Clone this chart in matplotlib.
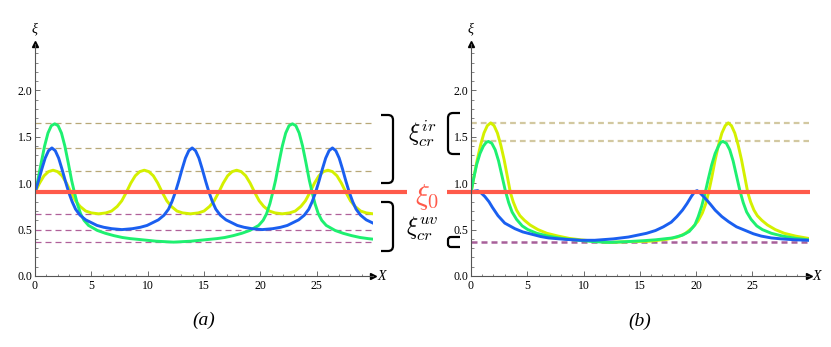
import matplotlib
matplotlib.use("Agg")
import matplotlib.pyplot as plt
from matplotlib.path import Path
from matplotlib.patches import PathPatch

plt.rcParams['mathtext.fontset'] = 'cm'
plt.rcParams['font.family'] = ['Liberation Serif', 'DejaVu Serif']

W, H = 831, 347

# ---- panel (a) ----
a_yel_x = [0, 0.4, 0.8, 1.2, 1.6, 2.0, 2.4, 2.8, 3.2, 3.6, 4.0, 4.5, 5.0, 5.65, 6.3, 6.8, 7.3, 7.7,
           8.1, 8.5, 8.9, 9.3, 9.7, 10.1, 10.5, 10.9, 11.3, 11.7, 12.1, 12.6, 13.1, 13.8, 14.5, 15.0,
           15.5, 15.9, 16.3, 16.7, 17.1, 17.5, 17.9, 18.3, 18.7, 19.1, 19.5, 19.9, 20.3, 20.8, 21.3,
           21.95, 22.6, 23.1, 23.6, 24.0, 24.4, 24.8, 25.2, 25.6, 26.0, 26.4, 26.8, 27.2, 27.6, 28.0,
           28.4, 28.9, 29.4, 30.0]
a_yel_y = [0.90, 1.00, 1.08, 1.125, 1.14, 1.125, 1.08, 1.00, 0.90, 0.81, 0.75, 0.70, 0.68, 0.67, 0.68,
           0.70, 0.75, 0.81, 0.90, 1.00, 1.08, 1.125, 1.14, 1.125, 1.08, 1.00, 0.90, 0.81, 0.75, 0.70,
           0.68, 0.67, 0.68, 0.70, 0.75, 0.81, 0.90, 1.00, 1.08, 1.125, 1.14, 1.125, 1.08, 1.00, 0.90,
           0.81, 0.75, 0.70, 0.68, 0.67, 0.68, 0.70, 0.75, 0.81, 0.90, 1.00, 1.08, 1.125, 1.14, 1.125,
           1.08, 1.00, 0.90, 0.81, 0.75, 0.70, 0.68, 0.67]

a_blu_x = [0, 0.3, 0.6, 0.9, 1.2, 1.5, 1.8, 2.1, 2.4, 2.7, 3.0, 3.3, 3.6, 4.0, 4.5, 5.0, 5.5, 6.1, 6.8,
           7.72, 8.65, 9.35, 9.95, 10.45, 10.95, 11.45, 11.85, 12.15, 12.45, 12.75, 13.05, 13.35, 13.65,
           13.95, 14.25, 14.55, 14.85, 15.15, 15.45, 15.75, 16.05, 16.45, 16.95, 17.45, 17.95, 18.55,
           19.25, 20.17, 21.1, 21.8, 22.4, 22.9, 23.4, 23.9, 24.3, 24.6, 24.9, 25.2, 25.5, 25.8, 26.1,
           26.4, 26.7, 27.0, 27.3, 27.6, 27.9, 28.2, 28.5, 28.9, 29.4, 30.0]
a_blu_y = [0.90, 1.02, 1.15, 1.27, 1.35, 1.38, 1.35, 1.27, 1.15, 1.02, 0.90, 0.80, 0.72, 0.655, 0.605,
           0.575, 0.545, 0.525, 0.51, 0.50, 0.51, 0.525, 0.545, 0.575, 0.605, 0.655, 0.72, 0.80, 0.90,
           1.02, 1.15, 1.27, 1.35, 1.38, 1.35, 1.27, 1.15, 1.02, 0.90, 0.80, 0.72, 0.655, 0.605, 0.575,
           0.545, 0.525, 0.51, 0.50, 0.51, 0.525, 0.545, 0.575, 0.605, 0.655, 0.72, 0.80, 0.90, 1.02,
           1.15, 1.27, 1.35, 1.38, 1.35, 1.27, 1.15, 1.02, 0.90, 0.80, 0.72, 0.655, 0.605, 0.57]

a_grn_x = [0, 0.25, 0.55, 0.85, 1.15, 1.45, 1.75, 2.05, 2.35, 2.65, 2.95, 3.25, 3.5, 3.75, 4.05, 4.35,
           4.75, 5.55, 6.25, 7.0, 7.75, 8.45, 9.95, 10.75, 12.3, 13.85, 14.65, 16.15, 16.85, 17.6,
           18.35, 19.05, 19.85, 20.25, 20.55, 20.85, 21.1, 21.35, 21.65, 21.95, 22.25, 22.55, 22.85,
           23.15, 23.45, 23.75, 24.05, 24.35, 24.6, 24.85, 25.15, 25.45, 25.85, 26.65, 27.35, 28.1,
           28.85, 29.55, 30.0]
a_grn_y = [0.90, 1.03, 1.22, 1.40, 1.54, 1.62, 1.64, 1.62, 1.54, 1.40, 1.22, 1.03, 0.90, 0.78, 0.67,
           0.60, 0.545, 0.49, 0.46, 0.435, 0.415, 0.403, 0.385, 0.375, 0.365, 0.375, 0.385, 0.403,
           0.415, 0.435, 0.46, 0.49, 0.545, 0.60, 0.67, 0.78, 0.90, 1.03, 1.22, 1.40, 1.54, 1.62, 1.64,
           1.62, 1.54, 1.40, 1.22, 1.03, 0.90, 0.78, 0.67, 0.60, 0.545, 0.49, 0.46, 0.435, 0.415,
           0.403, 0.397]

a_ir_levels = [1.645, 1.383, 1.135]
a_uv_levels = [0.672, 0.50, 0.363]

# ---- panel (b) ----
b_yel_x = [0, 0.25, 0.55, 0.85, 1.15, 1.45, 1.75, 2.05, 2.35, 2.65, 2.95, 3.25, 3.5, 3.75, 4.05, 4.35,
           4.75, 5.25, 5.95, 6.75, 7.75, 8.75, 9.75, 10.75, 12.3, 14.0, 15.87, 17.37, 18.37, 19.07,
           19.67, 20.17, 20.57, 20.87, 21.12, 21.4, 21.7, 22.0, 22.3, 22.6, 22.87, 23.15, 23.45,
           23.75, 24.05, 24.35, 24.6, 24.85, 25.15, 25.45, 25.85, 26.35, 27.05, 27.85, 28.85, 30.0]
b_yel_y = [0.90, 1.06, 1.25, 1.41, 1.54, 1.62, 1.65, 1.62, 1.54, 1.41, 1.25, 1.06, 0.90, 0.80, 0.71,
           0.65, 0.60, 0.55, 0.50, 0.46, 0.43, 0.405, 0.39, 0.378, 0.362, 0.37, 0.375, 0.395, 0.42,
           0.46, 0.52, 0.59, 0.68, 0.78, 0.90, 1.06, 1.25, 1.41, 1.54, 1.62, 1.65, 1.62, 1.54, 1.41,
           1.25, 1.06, 0.90, 0.80, 0.71, 0.65, 0.60, 0.55, 0.50, 0.46, 0.43, 0.405]

b_grn_x = [0, 0.25, 0.5, 0.8, 1.1, 1.35, 1.55, 1.85, 2.15, 2.45, 2.75, 3.05, 3.35, 3.65, 4.05, 4.55,
           5.05, 5.85, 6.85, 8.05, 9.55, 11.0, 12.3, 13.8, 15.3, 16.4, 17.9, 18.8, 19.4, 19.9, 20.2,
           20.5, 20.8, 21.1, 21.4, 21.7, 22.0, 22.2, 22.4, 22.7, 23.0, 23.3, 23.6, 23.9, 24.2, 24.5,
           24.9, 25.4, 25.9, 26.7, 27.7, 28.9, 30.0]
b_grn_y = [0.90, 1.06, 1.20, 1.32, 1.40, 1.44, 1.45, 1.43, 1.36, 1.24, 1.08, 0.92, 0.79, 0.69, 0.61,
           0.54, 0.50, 0.46, 0.43, 0.405, 0.385, 0.37, 0.362, 0.37, 0.38, 0.39, 0.41, 0.44, 0.48,
           0.55, 0.64, 0.75, 0.89, 1.05, 1.20, 1.32, 1.40, 1.44, 1.45, 1.43, 1.36, 1.24, 1.08, 0.92,
           0.79, 0.69, 0.61, 0.54, 0.50, 0.46, 0.43, 0.405, 0.39]

b_blu_x = [0, 0.3, 0.6, 0.9, 1.24, 1.6, 1.9, 2.4, 3.0, 3.9, 4.6, 5.4, 6.2, 6.9, 8.35, 9.8, 11.0, 12.65,
           14.0, 15.0, 15.6, 16.4, 17.1, 17.8, 18.3, 18.8, 19.2, 19.6, 19.9, 20.1, 20.4, 20.8, 21.3,
           21.7, 22.3, 22.9, 23.6, 24.4, 25.1, 25.8, 26.7, 27.6, 28.8, 30.0]
b_blu_y = [0.90, 0.915, 0.92, 0.895, 0.855, 0.80, 0.74, 0.65, 0.57, 0.51, 0.475, 0.45, 0.425, 0.41,
           0.395, 0.385, 0.385, 0.40, 0.42, 0.445, 0.46, 0.49, 0.53, 0.58, 0.64, 0.71, 0.78, 0.86,
           0.91, 0.92, 0.89, 0.84, 0.77, 0.71, 0.64, 0.585, 0.53, 0.49, 0.455, 0.43, 0.41, 0.40,
           0.39, 0.385]

b_ir_levels = [1.652, 1.455]
b_uv_levels = [0.37]

xi0 = 0.9
x_ticks = [0, 5, 10, 15, 20, 25]
y_ticks = [0.0, 0.5, 1.0, 1.5, 2.0]

c_yel = '#d4f000'
c_grn = '#1ef070'
c_blu = '#1a5ff0'
c_red = '#ff5a4a'


def px(x, y):
    return x / W, 1 - y / H


def setup(ax, xi_xy, x_xy):
    ax.set_xlim(0, 30)
    ax.set_ylim(0, 2.5)
    for s in ['top', 'right']:
        ax.spines[s].set_visible(False)
    for s in ['left', 'bottom']:
        ax.spines[s].set_color('#555555')
        ax.spines[s].set_linewidth(0.8)
    ax.set_xticks(x_ticks)
    ax.set_xticks(range(0, 30), minor=True)
    ax.set_yticks(y_ticks)
    ax.set_yticks([i / 10 for i in range(25)], minor=True)
    ax.set_yticklabels(['%.1f' % v for v in y_ticks])
    ax.tick_params(which='major', direction='in', length=3.5, width=0.6, color='#555555',
                   labelsize=8.5, pad=2)
    ax.tick_params(which='minor', direction='in', length=1.8, width=0.5, color='#555555')
    ax.tick_params(axis='x', pad=3)
    ax.plot(1, 0, '>', color='k', ms=5, transform=ax.get_yaxis_transform(), clip_on=False)
    ax.plot(0, 1, '^', color='k', ms=5, transform=ax.get_xaxis_transform(), clip_on=False)
    fx, fy = px(*xi_xy)
    ax.figure.text(fx, fy, 'ξ', fontsize=10, style='italic', ha='center', va='center')
    fx, fy = px(*x_xy)
    ax.figure.text(fx, fy, 'X', fontsize=10, style='italic', ha='center', va='center')


def bracket(fig, xv, xa, y0, y1, r=5):
    # rounded bracket: vertical line at xv, arms pointing to xa (pixel coords)
    s = 1 if xa < xv else -1
    pts = [(xa, y0), (xv - s * r, y0), (xv, y0), (xv, y0 + r),
           (xv, y1 - r), (xv, y1), (xv - s * r, y1), (xa, y1)]
    codes = [Path.MOVETO, Path.LINETO, Path.CURVE3, Path.CURVE3,
             Path.LINETO, Path.CURVE3, Path.CURVE3, Path.LINETO]
    verts = [px(x, y) for x, y in pts]
    fig.add_artist(PathPatch(Path(verts, codes), fill=False, lw=1.6, ec='k',
                             transform=fig.transFigure, capstyle='butt'))


fig = plt.figure(figsize=(W / 100, H / 100), dpi=100)
ax1 = fig.add_axes([35 / W, 71 / H, 338 / W, 232 / H])
ax2 = fig.add_axes([471 / W, 71 / H, 337.5 / W, 232 / H])

# panel (a)
for lv in a_ir_levels:
    ax1.plot([0, 30], [lv, lv], color='#b8a878', lw=0.9, dashes=(4.8, 3.2))
for lv in a_uv_levels:
    ax1.plot([0, 30], [lv, lv], color='#b0609a', lw=0.9, dashes=(4.8, 3.2))
ax1.plot(a_yel_x, a_yel_y, color=c_yel, lw=2.1)
ax1.plot(a_grn_x, a_grn_y, color=c_grn, lw=2.1)
ax1.plot(a_blu_x, a_blu_y, color=c_blu, lw=2.1)
ax1.plot([0, 33.0], [xi0, xi0], color=c_red, lw=3.0, clip_on=False, solid_capstyle='butt')
setup(ax1, (35, 29), (382, 277))

# panel (b)
for lv in b_ir_levels:
    ax2.plot([0, 30], [lv, lv], color='#d2c8a0', lw=1.6, dashes=(2.6, 1.8))
for lv in b_uv_levels:
    ax2.plot([0, 30], [lv, lv], color='#a8609a', lw=1.8, dashes=(2.4, 1.6))
ax2.plot(b_yel_x, b_yel_y, color=c_yel, lw=2.1)
ax2.plot(b_grn_x, b_grn_y, color=c_grn, lw=2.1)
ax2.plot(b_blu_x, b_blu_y, color=c_blu, lw=2.1)
ax2.plot([-2.15, 30.1], [xi0, xi0], color=c_red, lw=3.0, clip_on=False, solid_capstyle='butt')
setup(ax2, (471, 29), (817, 277))

# annotations between panels
bracket(fig, 393, 381, 115, 183)
bracket(fig, 393, 381, 202, 251)
bracket(fig, 448, 460, 113, 154)
bracket(fig, 448, 460, 237, 247, r=3)

fig.text(*px(422, 134), r'$\xi_{cr}^{ir}$', fontsize=17, ha='center', va='center')
fig.text(*px(422, 229), r'$\xi_{cr}^{uv}$', fontsize=17, ha='center', va='center')
fig.text(*px(427, 197), r'$\xi_0$', fontsize=21, color=c_red, ha='center', va='center')

fig.text(*px(204, 320), '(a)', fontsize=14, style='italic', ha='center', va='center')
fig.text(*px(640, 321), '(b)', fontsize=14, style='italic', ha='center', va='center')

fig.savefig('out.png', dpi=100)
